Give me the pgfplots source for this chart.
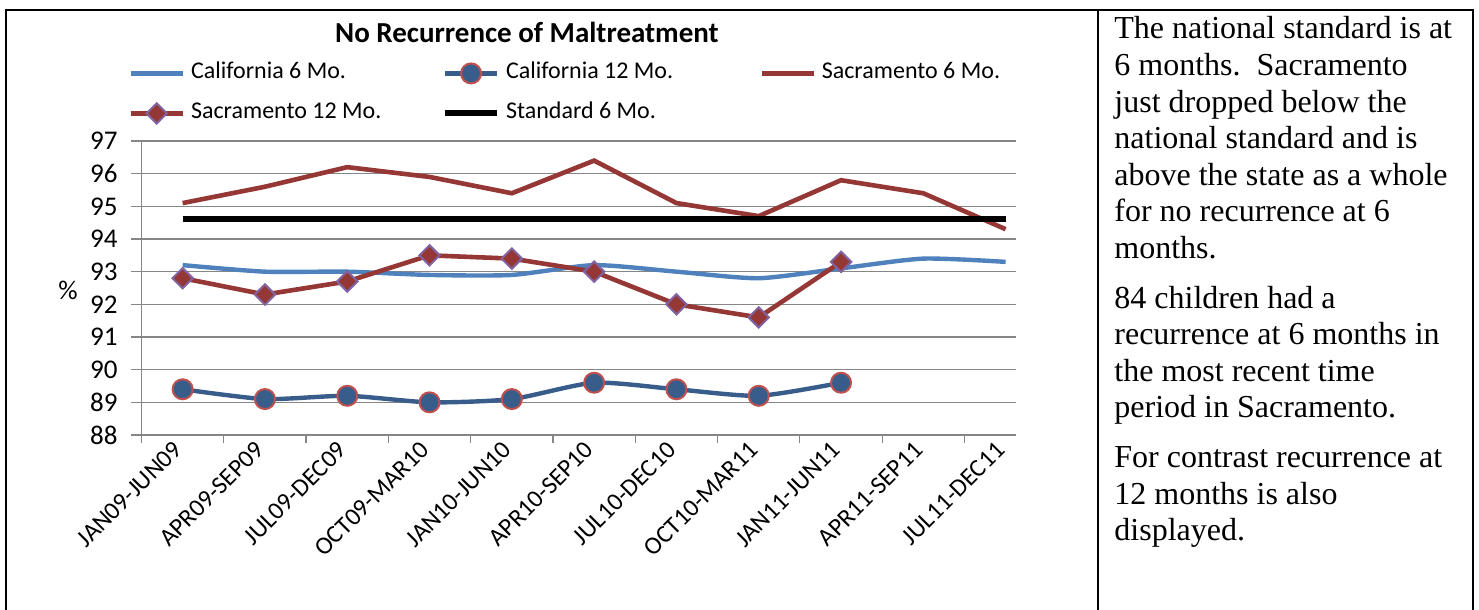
\documentclass[border=0pt]{standalone}
\usepackage{fontspec}
\setmainfont{Carlito}
\newfontfamily\timesfont{Liberation Serif}
\usepackage{pgfplots}
\pgfplotsset{compat=1.18}

\definecolor{calsix}{RGB}{79,129,189}
\definecolor{caltwelve}{RGB}{56,93,138}
\definecolor{sacred}{RGB}{149,55,53}
\definecolor{markred}{RGB}{192,80,77}
\definecolor{markpurple}{RGB}{128,100,162}
\definecolor{gridgray}{RGB}{134,134,134}

\begin{document}
\begin{tikzpicture}
\path[use as bounding box] (0,0) rectangle (739.5pt,-305pt);
% table frame round chart and comment
\draw[line width=1.3pt, line cap=rect] (3pt,-305pt) -- (3pt,-5pt) -- (736.5pt,-5pt) -- (736.5pt,-305pt);
\draw[line width=1.3pt] (549pt,-5pt) -- (549pt,-305pt);

\node[font=\bfseries\fontsize{14.5}{17}\selectfont] at (263.5pt,-16pt) {No Recurrence of Maltreatment};
\node[font=\fontsize{13.5}{16}\selectfont] at (34pt,-145pt) {\%};

\begin{axis}[
  at={(70.75pt,-217.5pt)}, anchor=south west,
  scale only axis, width=437.25pt, height=147pt,
  xmin=-0.5, xmax=10.126, ymin=88, ymax=97,
  ytick={88,...,97},
  xtick={0,...,10},
  xticklabels={JAN09-JUN09,APR09-SEP09,JUL09-DEC09,OCT09-MAR10,JAN10-JUN10,APR10-SEP10,JUL10-DEC10,OCT10-MAR11,JAN11-JUN11,APR11-SEP11,JUL11-DEC11},
  minor xtick={-0.5,0.5,...,9.5},
  axis lines*=left,
  axis line style={gridgray, line width=0.6pt},
  ymajorgrids, grid style={gridgray, line width=0.6pt},
  tick align=outside,
  tick style={gridgray, line width=0.6pt},
  major tick length=5pt, minor tick length=4pt,
  major x tick style={draw=none},
  /pgf/number format/assume math mode=true,
  yticklabel style={font=\fontsize{13.5}{16}\selectfont, xshift=-3.5pt},
  xticklabel style={font=\fontsize{12.5}{15}\selectfont, rotate=45, anchor=east},
  xticklabel shift=-2pt,
  legend columns=3,
  legend cell align=left,
  legend style={at={(-0.0154,1.2704)}, anchor=north west, draw=none, fill=none, inner sep=0pt,
    font=\fontsize{12}{14}\selectfont,
    nodes={inner sep=0pt, text height=8.5pt, text depth=3pt},
    column sep=3pt, row sep=8.5pt,
    /tikz/column 2/.style={column sep=30.3pt},
    /tikz/column 4/.style={column sep=43pt}},
  legend image code/.code={\draw[mark repeat=2, mark phase=2, #1] plot coordinates {(0pt,0pt) (13pt,0pt) (26pt,0pt)};},
]
\addplot[calsix, line width=2.2pt, smooth, tension=0.4] coordinates {
  (0,93.2) (1,93.0) (2,93.0) (3,92.9) (4,92.9) (5,93.2) (6,93.0) (7,92.8) (8,93.1) (9,93.4) (10,93.3)};
\addlegendentry{California 6 Mo.}
\addplot[caltwelve, line width=2.2pt, smooth, tension=0.4, mark=*, mark size=5pt,
  mark options={fill=caltwelve, draw=markred, line width=1pt}] coordinates {
  (0,89.4) (1,89.1) (2,89.2) (3,89.0) (4,89.1) (5,89.6) (6,89.4) (7,89.2) (8,89.6)};
\addlegendentry{California 12 Mo.}
\addplot[sacred, line width=2.3pt] coordinates {
  (0,95.1) (1,95.6) (2,96.2) (3,95.9) (4,95.4) (5,96.4) (6,95.1) (7,94.7) (8,95.8) (9,95.4) (10,94.3)};
\addlegendentry{Sacramento 6 Mo.}
\addplot[sacred, line width=2.3pt, mark=square*, mark size=3.6pt,
  mark options={rotate=45, fill=sacred, draw=markpurple, line width=1pt}] coordinates {
  (0,92.8) (1,92.3) (2,92.7) (3,93.5) (4,93.4) (5,93.0) (6,92.0) (7,91.6) (8,93.3)};
\addlegendentry{Sacramento 12 Mo.}
\addplot[black, line width=3pt] coordinates {
  (0,94.6) (1,94.6) (2,94.6) (3,94.6) (4,94.6) (5,94.6) (6,94.6) (7,94.6) (8,94.6) (9,94.6) (10,94.6)};
\addlegendentry{Standard 6 Mo.}
\end{axis}

\node[anchor=base west, inner sep=0pt] at (557pt,-19.5pt) {%
  \begin{minipage}[t]{180pt}\raggedright
  \timesfont\fontsize{16}{18.3}\selectfont
  The national standard is at\\ 6 months.\ \ Sacramento\\ just dropped below the\\ national standard and is\\ above the state as a whole\\ for no recurrence at 6\\ months.\\[6.5pt]
  84 children had a\\ recurrence at 6 months in\\ the most recent time\\ period in Sacramento.\\[6.5pt]
  For contrast recurrence at\\ 12 months is also\\ displayed.
  \end{minipage}};
\end{tikzpicture}
\end{document}
